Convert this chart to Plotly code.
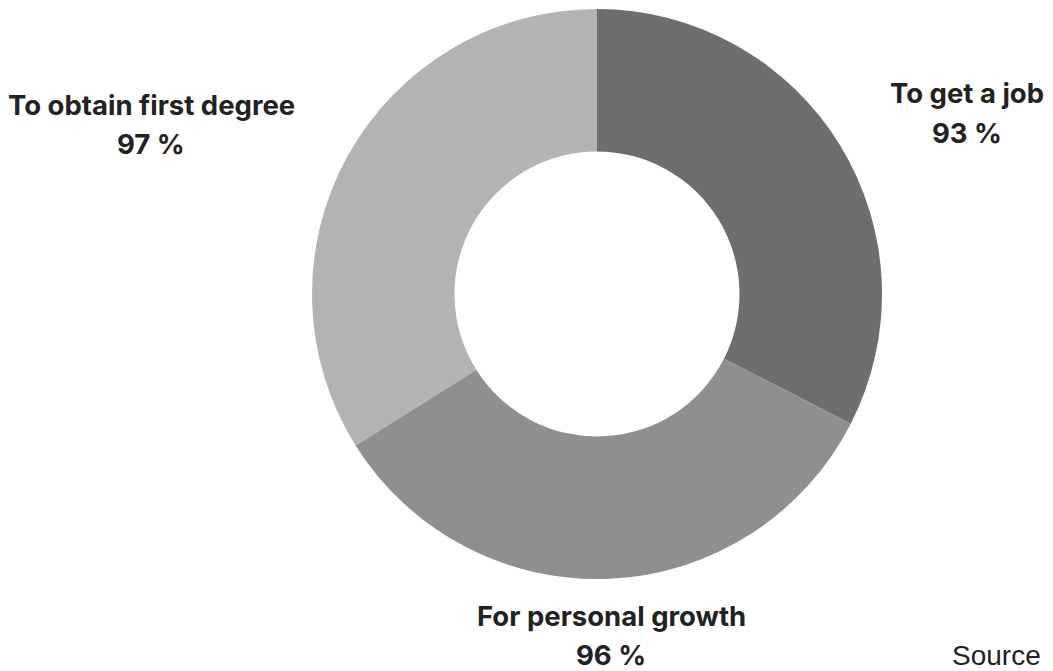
import plotly.graph_objects as go

labels = ["To get a job", "For personal growth", "To obtain first degree"]
values = [93, 96, 97]
colors = ["#6f6d6e", "#8f8f8f", "#b3b3b3"]

W, H = 1053, 671
off = 8  # page body margin
cx, cy, r = 597 - off, 294 - off, 285

fig = go.Figure(go.Pie(
    labels=labels, values=values, sort=False, direction="clockwise", rotation=0,
    hole=0.5, marker=dict(colors=colors, line=dict(width=0)),
    textinfo="none", hoverinfo="label+value", showlegend=False,
    domain=dict(x=[(cx - r) / W, (cx + r) / W], y=[(H - cy - r) / H, (H - cy + r) / H]),
))

label_pos = [(967, 93, 133), (611, 616, 655), (151, 105, 144)]
font = dict(family="Inter, Roboto, sans-serif", size=27.5, color="#222222")
anns = []
for lab, val, (x, y1, y2) in zip(labels, values, label_pos):
    anns.append(dict(x=(x - off) / W, y=1 - (y1 - off) / H, xref="paper", yref="paper", text=f"<b>{lab}</b>",
                     showarrow=False, font=font, xanchor="center", yanchor="middle"))
    anns.append(dict(x=(x - off) / W, y=1 - (y2 - off) / H, xref="paper", yref="paper", text=f"<b>{val} %</b>",
                     showarrow=False, font=font, xanchor="center", yanchor="middle"))
anns.append(dict(x=(950 - off) / W, y=1 - (655 - off) / H, xref="paper", yref="paper", text="Source",
                 showarrow=False, xanchor="left", yanchor="middle",
                 font=dict(family="Liberation Sans, Arial, sans-serif", size=28, color="#222222")))

fig.update_layout(width=W, height=H, margin=dict(l=0, r=0, t=0, b=0),
                  paper_bgcolor="white", plot_bgcolor="white", annotations=anns)
fig.write_html("out.html")
